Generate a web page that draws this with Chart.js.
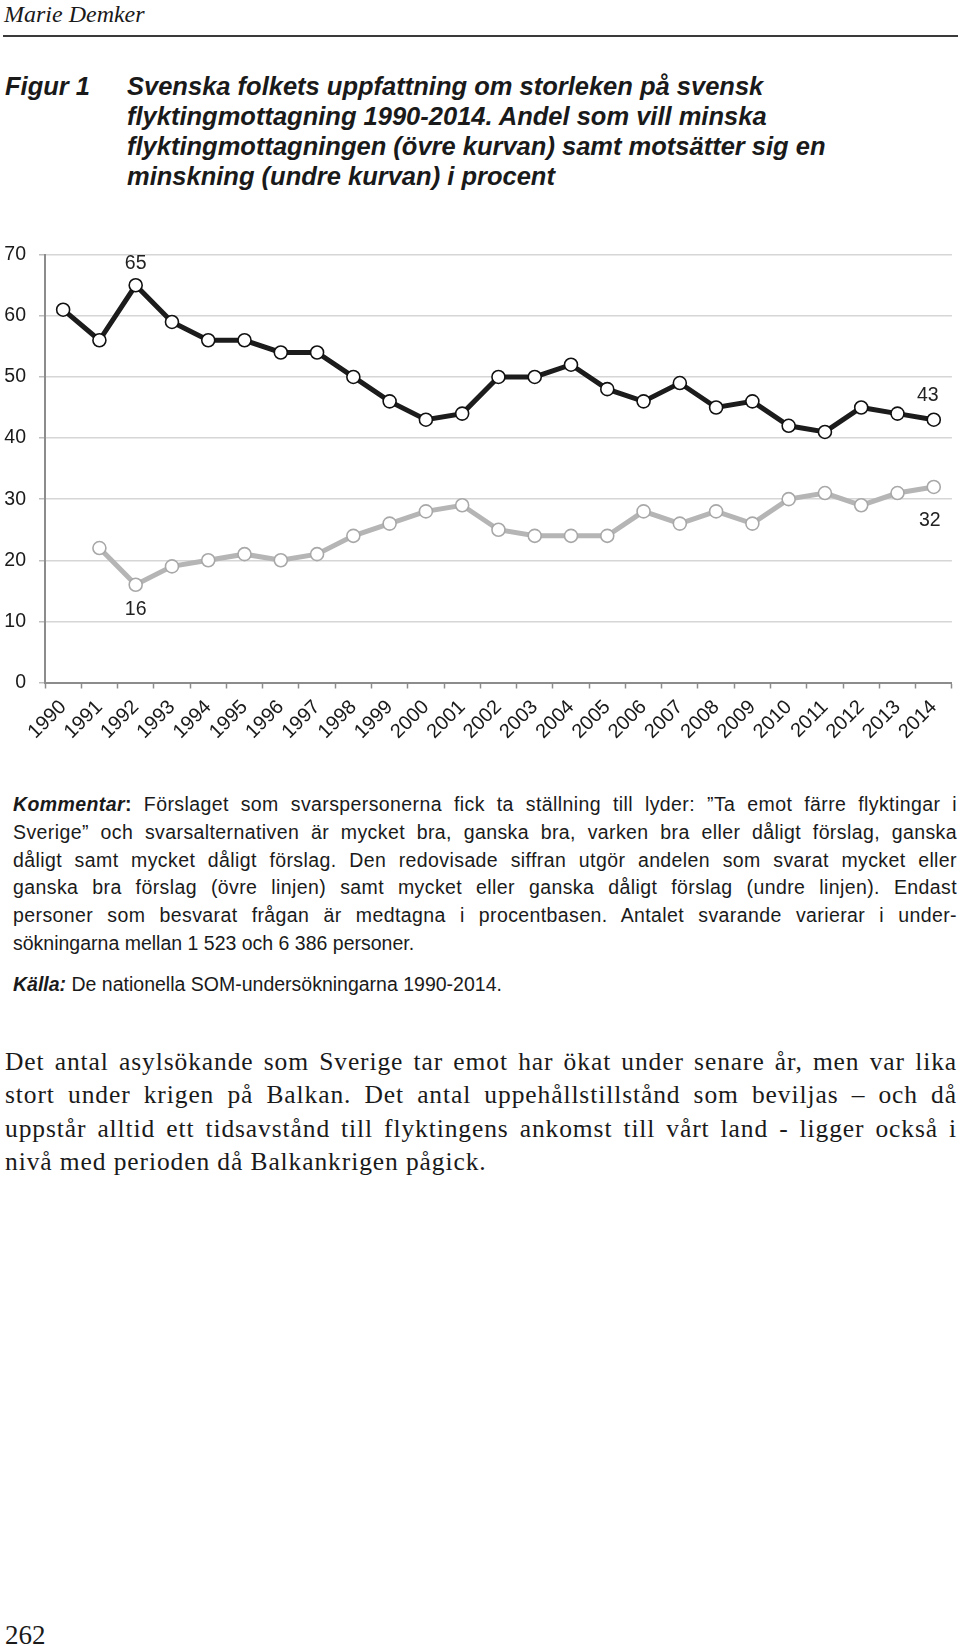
<!DOCTYPE html>
<html lang="sv">
<head>
<meta charset="utf-8">
<title>Figur 1</title>
<script src="https://cdn.jsdelivr.net/npm/chart.js@4/dist/chart.umd.min.js"></script>
<style>
	html, body { margin: 0; padding: 0; background: #fff; }
	body { width: 960px; height: 1646px; position: relative; overflow: hidden; color: #1a1a1a; }
	.abs { position: absolute; }
	.serif { font-family: "Liberation Serif", "Times New Roman", serif; }
	.sans { font-family: "Liberation Sans", Arial, sans-serif; }
	#author { left: 4px; top: 0px; font-size: 24px; font-style: italic; line-height: 28px; }
	#rule { left: 3px; top: 35px; width: 955px; height: 2px; background: #3a3a3a; }
	#figlabel, #figtitle { font-size: 25.5px; font-weight: bold; font-style: italic; line-height: 30px; top: 71px; }
	#figlabel { left: 5px; }
	#figtitle { left: 127px; }
	#chartbox { left: 0; top: 230px; }
	.just { text-align: justify; text-align-last: justify; white-space: nowrap; }
	.last { text-align: left; white-space: nowrap; }
	#comment { left: 13px; top: 791px; width: 944px; font-size: 19.5px; line-height: 27.8px; }
	#comment .just { letter-spacing: 0.4px; }
	#source { left: 13px; top: 971px; width: 944px; font-size: 19.5px; line-height: 27.8px; }
	#bodytext { left: 5px; top: 1045px; width: 952px; font-size: 25.5px; line-height: 33.4px; letter-spacing: 0.9px; }
	#pageno { left: 5px; top: 1620px; font-size: 27px; line-height: 30px; }
</style>
</head>
<body>

<div id="author" class="abs serif">Marie Demker</div>
<div id="rule" class="abs"></div>

<div id="figlabel" class="abs sans">Figur 1</div>
<div id="figtitle" class="abs sans">
	Svenska folkets uppfattning om storleken på svensk<br>
	flyktingmottagning 1990-2014. Andel som vill minska<br>
	flyktingmottagningen (övre kurvan) samt motsätter sig en<br>
	minskning (undre kurvan) i procent
</div>

<div id="chartbox" class="abs"><canvas id="chart" width="960" height="530"></canvas></div>

<div id="comment" class="abs sans">
	<div class="just"><b><i>Kommentar</i>:</b> Förslaget som svarspersonerna fick ta ställning till lyder: ”Ta emot färre flyktingar i</div>
	<div class="just">Sverige” och svarsalternativen är mycket bra, ganska bra, varken bra eller dåligt förslag, ganska</div>
	<div class="just">dåligt samt mycket dåligt förslag. Den redovisade siffran utgör andelen som svarat mycket eller</div>
	<div class="just">ganska bra förslag (övre linjen) samt mycket eller ganska dåligt förslag (undre linjen). Endast</div>
	<div class="just">personer som besvarat frågan är medtagna i procentbasen. Antalet svarande varierar i under-</div>
	<div class="last">sökningarna mellan 1 523 och 6 386 personer.</div>
</div>
<div id="source" class="abs sans"><b><i>Källa:</i></b> De nationella SOM-undersökningarna 1990-2014.</div>

<div id="bodytext" class="abs serif">
	<div class="just">Det antal asylsökande som Sverige tar emot har ökat under senare år, men var lika</div>
	<div class="just">stort under krigen på Balkan. Det antal uppehållstillstånd som beviljas – och då</div>
	<div class="just">uppstår alltid ett tidsavstånd till flyktingens ankomst till vårt land - ligger också i</div>
	<div class="last">nivå med perioden då Balkankrigen pågick.</div>
</div>

<div id="pageno" class="abs serif">262</div>

<script>
// years on the x axis
var years = ["1990","1991","1992","1993","1994","1995","1996","1997","1998","1999",
	"2000","2001","2002","2003","2004","2005","2006","2007","2008","2009",
	"2010","2011","2012","2013","2014"];

// andel som vill minska flyktingmottagningen (övre kurvan)
var ovreKurvan = [61,56,65,59,56,56,54,54,50,46,43,44,50,50,52,48,46,49,45,46,42,41,45,44,43];

// andel som motsätter sig en minskning (undre kurvan), no value for 1990
var undreKurvan = [null,22,16,19,20,21,20,21,24,26,28,29,25,24,24,24,28,26,28,26,30,31,29,31,32];

// y axis ticks
var yTicks = [0,10,20,30,40,50,60,70];

// which points get a value label: dataset, year index
var labelSeries = [0, 1, 0, 1];
var labelIndex = [2, 2, 24, 24];

var FONT = "'Liberation Sans', Arial, sans-serif";

// label offsets from the point (style only)
var labelOffsets = [
	{dx: 0, dy: -22},
	{dx: 0, dy: 25},
	{dx: -6, dy: -24},
	{dx: -4, dy: 34}
];

var valueLabels = {
	id: "valueLabels",
	afterDatasetsDraw: function(chart) {
		var ctx = chart.ctx;
		ctx.save();
		ctx.font = "19.5px " + FONT;
		ctx.fillStyle = "#222";
		ctx.textAlign = "center";
		ctx.textBaseline = "middle";
		for (var i = 0; i < labelSeries.length; i++) {
			var ds = labelSeries[i];
			var idx = labelIndex[i];
			var pt = chart.getDatasetMeta(ds).data[idx];
			var value = chart.data.datasets[ds].data[idx];
			ctx.fillText(String(value), pt.x + labelOffsets[i].dx, pt.y + labelOffsets[i].dy);
		}
		ctx.restore();
	}
};

var chart = new Chart(document.getElementById("chart").getContext("2d"), {
	type: "line",
	data: {
		labels: years,
		datasets: [{
			data: ovreKurvan,
			borderColor: "#1c1c1c",
			borderWidth: 5,
			pointRadius: 6.5,
			pointBorderWidth: 1.6,
			pointBorderColor: "#111",
			pointBackgroundColor: "#fff",
			tension: 0
		}, {
			data: undreKurvan,
			borderColor: "#b5b5b5",
			borderWidth: 5,
			pointRadius: 6.5,
			pointBorderWidth: 1.6,
			pointBorderColor: "#a8a8a8",
			pointBackgroundColor: "#fff",
			tension: 0
		}]
	},
	options: {
		responsive: false,
		animation: false,
		devicePixelRatio: 1,
		layout: { padding: { top: 21, right: 2.5, left: 0, bottom: 0 } },
		plugins: {
			legend: { display: false },
			tooltip: { enabled: false },
			title: { display: false }
		},
		scales: {
			x: {
				offset: true,
				grid: {
					offset: true,
					drawOnChartArea: false,
					drawTicks: true,
					tickLength: 6,
					tickColor: "#8c8c8c",
					tickWidth: 1.5
				},
				border: { color: "#8c8c8c", width: 2 },
				ticks: {
					minRotation: 45,
					maxRotation: 45,
					autoSkip: false,
					padding: 7,
					color: "#1a1a1a",
					font: { size: 20, family: FONT }
				},
				afterFit: function(scale) { scale.height = 77.5; }
			},
			y: {
				min: yTicks[0],
				max: yTicks[yTicks.length - 1],
				afterBuildTicks: function(scale) {
					scale.ticks = yTicks.map(function(v) { return {value: v}; });
				},
				grid: {
					color: "#d6d6d6",
					lineWidth: 1.5,
					tickLength: 6,
					tickColor: "#bdbdbd"
				},
				border: { color: "#8c8c8c", width: 2 },
				ticks: {
					padding: 13,
					color: "#1a1a1a",
					font: { size: 19.5, family: FONT }
				},
				afterFit: function(scale) { scale.width = 45; }
			}
		}
	},
	plugins: [valueLabels]
});
</script>
</body>
</html>
